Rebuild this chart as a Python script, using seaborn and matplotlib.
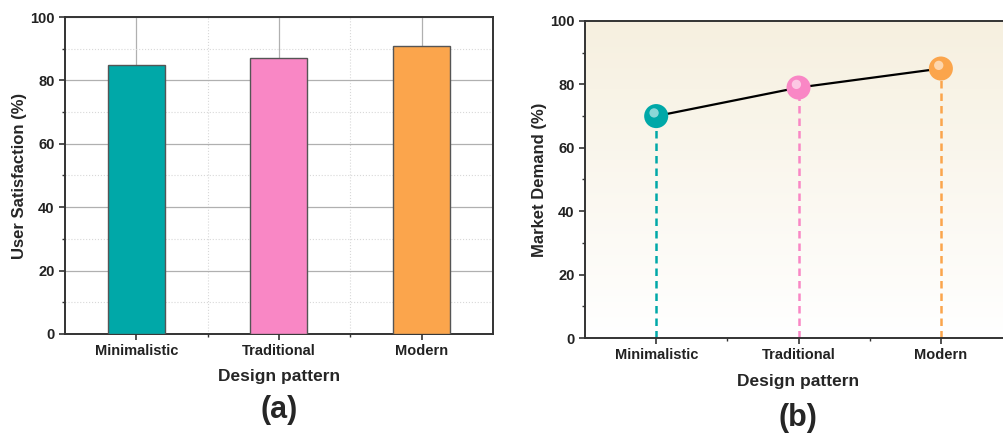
import numpy as np
import pandas as pd
import matplotlib
matplotlib.use("Agg")
import matplotlib.pyplot as plt
import seaborn as sns
from matplotlib.ticker import MultipleLocator, FixedLocator

# data
patterns = ["Minimalistic", "Traditional", "Modern"]
satisfaction = [85, 87, 91]
demand = [70, 79, 85]
colors = ["#00a8a8", "#f987c5", "#fba54c"]

sns.set_style("ticks")
plt.rcParams["font.family"] = ["Liberation Sans", "DejaVu Sans"]
plt.rcParams["font.weight"] = "bold"

fig = plt.figure(figsize=(10.04, 4.37), dpi=100)
ax1 = fig.add_axes([0.0647, 0.236, 0.4263, 0.725])
ax2 = fig.add_axes([0.5827, 0.2265, 0.4253, 0.7255])

df = pd.DataFrame({"pattern": patterns, "sat": satisfaction, "dem": demand})


def style_axes(ax, ylabel):
    ax.set_xlim(-0.5, 2.5)
    ax.set_ylim(0, 100)
    ax.yaxis.set_major_locator(MultipleLocator(20))
    ax.yaxis.set_minor_locator(MultipleLocator(10))
    ax.xaxis.set_minor_locator(FixedLocator([0.5, 1.5]))
    ax.tick_params(axis="both", which="major", direction="out", length=4,
                   width=1.2, labelsize=10.5, color="#333333")
    ax.tick_params(axis="both", which="minor", direction="out", length=2.5,
                   width=1.0, color="#333333")
    for lab in ax.get_xticklabels() + ax.get_yticklabels():
        lab.set_fontweight("bold")
        lab.set_color("#222222")
    ax.set_xlabel("Design pattern", fontsize=12.5, fontweight="bold", labelpad=8)
    ax.set_ylabel(ylabel, fontsize=12, fontweight="bold", labelpad=2)
    for s in ax.spines.values():
        s.set_linewidth(1.4)
        s.set_color("#333333")


# (a) bar chart
sns.barplot(data=df, x="pattern", y="sat", hue="pattern", palette=colors,
            width=0.4, saturation=1, edgecolor="#555555", linewidth=1.0,
            legend=False, ax=ax1, zorder=3)
style_axes(ax1, "User Satisfaction (%)")
ax1.grid(which="major", color="#b0b0b0", linewidth=0.9, zorder=0)
ax1.grid(which="minor", color="#d8d8d8", linewidth=0.8, linestyle=":", zorder=0)
ax1.set_axisbelow(True)

# (b) line + drop lines, beige gradient background
grad = np.linspace(0, 1, 256).reshape(-1, 1, 1)
top = np.array([0.965, 0.94, 0.875])
bot = np.array([1.0, 1.0, 1.0])
img = bot + (top - bot) * grad
ax2.imshow(img, extent=[0, 1, 0, 1], transform=ax2.transAxes,
           origin="lower", aspect="auto", zorder=0)
sns.lineplot(data=df, x="pattern", y="dem", color="black", linewidth=1.6,
             ax=ax2, zorder=3)
for i, (v, c) in enumerate(zip(demand, colors)):
    ax2.plot([i, i], [0, v], linestyle="--", color=c, linewidth=1.8,
             dashes=(3, 2), zorder=2)
sns.scatterplot(x=patterns, y=demand, hue=patterns, palette=colors, s=300,
                edgecolor="none", legend=False, ax=ax2, zorder=4)
# sphere-like highlight
ax2.scatter(np.arange(3) - 0.015, np.array(demand) + 1.0, s=45, color="white",
            alpha=0.55, edgecolors="none", zorder=5)
style_axes(ax2, "Market Demand (%)")
ax2.spines["right"].set_visible(False)

fig.text(0.278, 0.062, "(a)", fontsize=22, fontweight="bold", ha="center",
         va="center")
fig.text(0.795, 0.043, "(b)", fontsize=22, fontweight="bold", ha="center",
         va="center")

fig.savefig("out.png", dpi=100)
